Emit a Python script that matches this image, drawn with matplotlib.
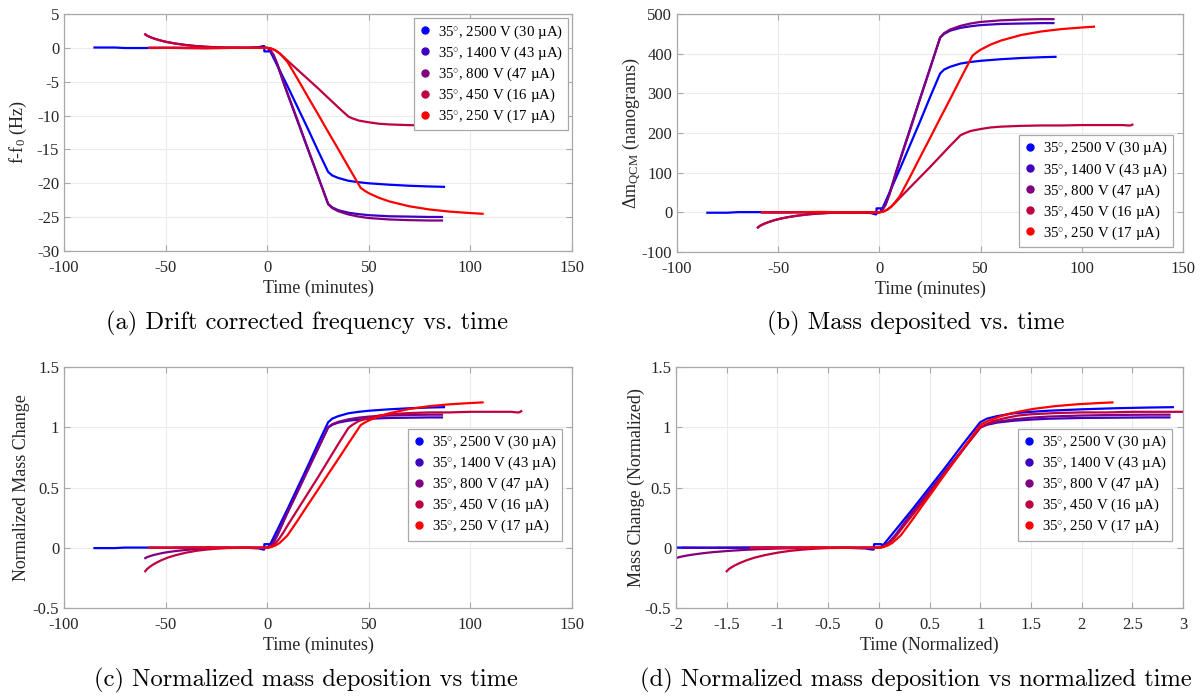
import numpy as np
import matplotlib.pyplot as plt
from matplotlib.lines import Line2D

plt.rcParams['font.family'] = ['Liberation Serif', 'DejaVu Serif']
plt.rcParams['mathtext.fontset'] = 'custom'
plt.rcParams['mathtext.rm'] = 'Liberation Serif'
plt.rcParams['mathtext.it'] = 'Liberation Serif:italic'
plt.rcParams['axes.unicode_minus'] = False

labels = ['35$^{\\circ}$, 2500 V (30 µA)',
          '35$^{\\circ}$, 1400 V (43 µA)',
          '35$^{\\circ}$, 800 V (47 µA)',
          '35$^{\\circ}$, 450 V (16 µA)',
          '35$^{\\circ}$, 250 V (17 µA)']
colors = ['#0000ff', '#4000bf', '#800080', '#bf0040', '#ff0000']

# QCM runs: time from start of deposition (min), deposited mass (ng)
t_2500 = [-85, -75, -70, -60, -50, -40, -30, -20, -10, -4, -2, -1.5, -1.4, 0.8, 1.0,
          5, 10, 15, 20, 25, 30, 32, 35, 40, 45, 50, 60, 70, 80, 87]
m_2500 = [-1, -1, 0.5, 0.5, 0, 0.5, 0.5, 0, 0, -2, -5, -5, 10, 10, 4,
          50, 108, 168, 228, 290, 350, 360, 367, 375, 379, 382, 386, 389, 391, 392]

t_1400 = [-58, -45, -30, -15, -5, 0, 1, 3, 5, 8, 10, 15, 20, 25, 30, 32, 35, 40,
          45, 50, 60, 70, 80, 86]
m_1400 = [0, 0, 0.5, 0, 0, 0, 3, 20, 48, 98, 130, 208, 286, 363, 440, 450, 458, 465,
          469, 472, 475, 476, 477, 477]

t_800 = [-60, -59, -57, -55, -52, -49, -45, -40, -35, -30, -25, -20, -10, 0, 1, 3, 5,
         8, 10, 15, 20, 25, 30, 32, 35, 40, 45, 50, 60, 70, 80, 86]
m_800 = [-38, -34, -29, -25, -20, -16, -12, -8, -5, -3, -1.5, -0.5, 0, 0, 3, 18, 45,
         95, 128, 205, 284, 362, 441, 452, 461, 470, 476, 480, 484, 486, 487, 487]

t_450 = [-60, -59, -57, -55, -52, -49, -45, -40, -35, -30, -25, -20, -10, 0, 2, 4, 6,
         8, 10, 15, 20, 25, 30, 35, 40, 42, 45, 50, 55, 60, 70, 80, 90, 100, 110, 120,
         123, 124, 125]
m_450 = [-38, -34, -29, -25, -20, -16, -12, -8, -5, -3, -1.5, -0.5, 0, 0, 2, 7, 15,
         25, 36, 62, 88, 114, 141, 168, 194, 199, 205, 210, 214, 216, 218, 219, 219,
         220, 220, 220, 219, 219, 221]

t_250 = [-58, -45, -30, -15, 0, 2, 4, 6, 8, 10, 15, 20, 25, 30, 35, 40, 46, 48, 50,
         55, 60, 70, 80, 90, 100, 106]
m_250 = [0, 0, 1, 0, 0, 2, 7, 15, 27, 40, 88, 138, 187, 237, 286, 336, 395, 403, 410,
         423, 433, 447, 456, 462, 466, 468]

ng_per_hz = 19.1                     # QCM mass sensitivity
m_ref = [336, 441, 441, 195, 388]    # mass at end of linear growth (ng)
t_dep = [30, 30, 30, 40, 46]         # length of linear growth (min)

times = [np.array(t, float) for t in (t_2500, t_1400, t_800, t_450, t_250)]
masses = [np.array(m, float) for m in (m_2500, m_1400, m_800, m_450, m_250)]

W, H = 1202, 696
fig = plt.figure(figsize=(W / 100, H / 100), dpi=100)


def add_ax(left, right, top, bottom):
    return fig.add_axes([left / W, 1 - bottom / H, (right - left) / W, (bottom - top) / H])


def style(ax, xlim, ylim, xticks, yticks, xlabel, ylabel, ylab_x):
    ax.set_xlim(xlim)
    ax.set_ylim(ylim)
    ax.set_xticks(xticks, labels=[f'{v:g}' for v in xticks])
    ax.set_yticks(yticks, labels=[f'{v:g}' for v in yticks])
    ax.grid(True, color='#ebebeb', lw=0.8)
    ax.set_axisbelow(True)
    ax.tick_params(direction='in', length=4, color='#a8a8a8', labelsize=12,
                   labelcolor='#262626', top=True, right=True)
    ax.tick_params(axis='x', pad=6.3)
    ax.tick_params(axis='y', pad=3.5)
    for s in ax.spines.values():
        s.set_color('#a8a8a8')
        s.set_linewidth(0.9)
    ax.set_xlabel(xlabel, fontsize=13, color='#262626', labelpad=3)
    ax.set_ylabel(ylabel, fontsize=13, color='#262626')
    ax.yaxis.set_label_coords(ylab_x, 0.5)


def legend(ax, anchor):
    handles = [Line2D([], [], marker='o', ls='', ms=5, color=c) for c in colors]
    leg = ax.legend(handles, labels, loc='upper right', bbox_to_anchor=anchor,
                    fontsize=10.7, frameon=True, fancybox=False, framealpha=1,
                    edgecolor='#a8a8a8', handlelength=0.78, handletextpad=0.49,
                    labelspacing=0.25, borderpad=0.35, borderaxespad=0)
    leg.get_frame().set_linewidth(0.9)


ax_a = add_ax(64, 572, 14, 251)
ax_b = add_ax(677, 1183, 14, 252)
ax_c = add_ax(64, 572, 367, 608)
ax_d = add_ax(676, 1183, 367, 608)

for t, m, c, mr, td in zip(times, masses, colors, m_ref, t_dep):
    ax_a.plot(t, -m / ng_per_hz, color=c, lw=1.6)
    ax_b.plot(t, m, color=c, lw=1.6)
    ax_c.plot(t, m / mr, color=c, lw=1.6)
    ax_d.plot(t / td, m / mr, color=c, lw=1.6)

x_min = np.arange(-100, 151, 50)
style(ax_a, (-100, 150), (-30, 5), x_min, np.arange(-30, 6, 5),
      'Time (minutes)', 'f-f$_0$ (Hz)', -0.068)
style(ax_b, (-100, 150), (-100, 500), x_min, np.arange(-100, 501, 100),
      'Time (minutes)', 'Δm$_{\\mathrm{QCM}}$ (nanograms)', -0.067)
style(ax_c, (-100, 150), (-0.5, 1.5), x_min, np.arange(-0.5, 1.6, 0.5),
      'Time (minutes)', 'Normalized Mass Change', -0.066)
style(ax_d, (-2, 3), (-0.5, 1.5), np.arange(-2, 3.1, 0.5), np.arange(-0.5, 1.6, 0.5),
      'Time (Normalized)', 'Mass Change (Normalized)', -0.061)

legend(ax_a, (0.992, 0.982))
legend(ax_b, (0.980, 0.492))
legend(ax_c, (0.980, 0.744))
legend(ax_d, (0.979, 0.744))

captions = [(307, 323, '(a) Drift corrected frequency vs. time'),
            (916, 323, '(b) Mass deposited vs. time'),
            (306, 680, '(c) Normalized mass deposition vs time'),
            (916, 680, '(d) Normalized mass deposition vs normalized time')]
for x, y, s in captions:
    fig.text(x / W, 1 - y / H, s, family='cmr10', fontsize=17.7, ha='center', va='center')

fig.savefig('out.png', dpi=100)
